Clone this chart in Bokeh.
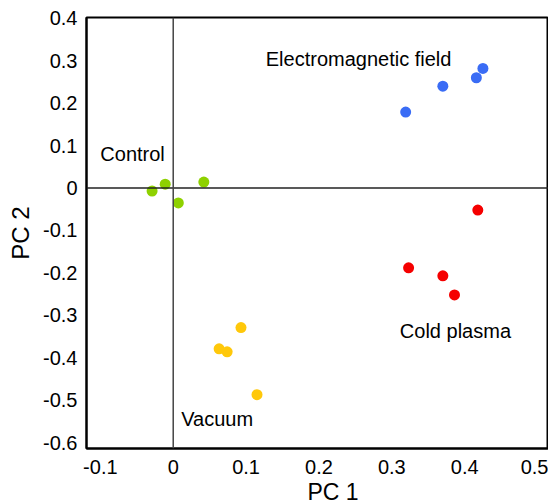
from bokeh.plotting import figure
from bokeh.models import Span, FixedTicker, CustomJSTickFormatter, ColumnDataSource, Title
from bokeh.core.properties import value
from bokeh.embed import file_html
from bokeh.resources import INLINE

# Data
control_pc1 = [-0.029, -0.011, 0.007, 0.042]
control_pc2 = [-0.007, 0.009, -0.035, 0.014]

emf_pc1 = [0.319, 0.370, 0.416, 0.425]
emf_pc2 = [0.179, 0.240, 0.260, 0.282]

plasma_pc1 = [0.418, 0.323, 0.370, 0.386]
plasma_pc2 = [-0.052, -0.188, -0.207, -0.252]

vacuum_pc1 = [0.093, 0.063, 0.074, 0.115]
vacuum_pc2 = [-0.329, -0.379, -0.386, -0.487]

group_names = ["Electromagnetic field", "Control", "Cold plasma", "Vacuum"]
name_x = [0.127, -0.100, 0.311, 0.011]
name_y = [0.304, 0.080, -0.336, -0.544]

x_ticks = [-0.1, 0.0, 0.1, 0.2, 0.3, 0.4, 0.5]
y_ticks = [0.4, 0.3, 0.2, 0.1, 0.0, -0.1, -0.2, -0.3, -0.4, -0.5, -0.6]

x_title = "PC 1"
y_title = "PC 2"

FONT = "Liberation Sans"

p = figure(width=548, height=504, x_range=(-0.119, 0.515), y_range=(-0.614, 0.402),
           output_backend="svg", toolbar_location=None,
           min_border_left=86, min_border_top=17, min_border_right=0, min_border_bottom=56)
p.grid.visible = False
p.background_fill_color = "white"
p.border_fill_color = "white"
p.outline_line_color = "black"
p.outline_line_width = 2

fmt = CustomJSTickFormatter(code="return Math.abs(tick) < 1e-9 ? '0' : tick.toFixed(1);")
for ax, ticks in ((p.xaxis[0], x_ticks), (p.yaxis[0], y_ticks)):
    ax.ticker = FixedTicker(ticks=ticks)
    ax.formatter = fmt
    ax.major_tick_line_color = None
    ax.minor_tick_line_color = None
    ax.axis_line_color = "black"
    ax.axis_line_width = 2
    ax.major_label_text_font = FONT
    ax.major_label_text_font_size = "20px"
    ax.major_label_text_color = "black"

p.xaxis[0].major_label_standoff = 5
p.yaxis[0].major_label_standoff = 3
p.yaxis[0].axis_label = y_title
p.yaxis[0].axis_label_text_font = FONT
p.yaxis[0].axis_label_text_font_size = "24px"
p.yaxis[0].axis_label_text_font_style = "normal"
p.yaxis[0].axis_label_text_color = "black"
p.yaxis[0].axis_label_standoff = 6

p.add_layout(Title(text=x_title, align="left", offset=221, standoff=0,
                   text_font=FONT, text_font_size="23px", text_font_style="normal",
                   text_color="black"), "below")

p.add_layout(Span(location=0, dimension="width", line_color="#222222", line_width=1.5))
p.add_layout(Span(location=0, dimension="height", line_color="#444444", line_width=1.5))

p.scatter(control_pc1, control_pc2, size=11, color="#8ed100", line_color=None)
p.scatter(emf_pc1, emf_pc2, size=11, color="#3a6cf5", line_color=None)
p.scatter(plasma_pc1, plasma_pc2, size=11, color="#f50000", line_color=None)
p.scatter(vacuum_pc1, vacuum_pc2, size=11, color="#ffc80a", line_color=None)

src = ColumnDataSource(dict(x=name_x, y=name_y, t=group_names))
p.text(x="x", y="y", text="t", source=src, text_font=value(FONT), text_font_size="20px",
       text_color="black", text_baseline="middle", text_align="left")

open("out.html", "w").write(file_html(p, INLINE))
